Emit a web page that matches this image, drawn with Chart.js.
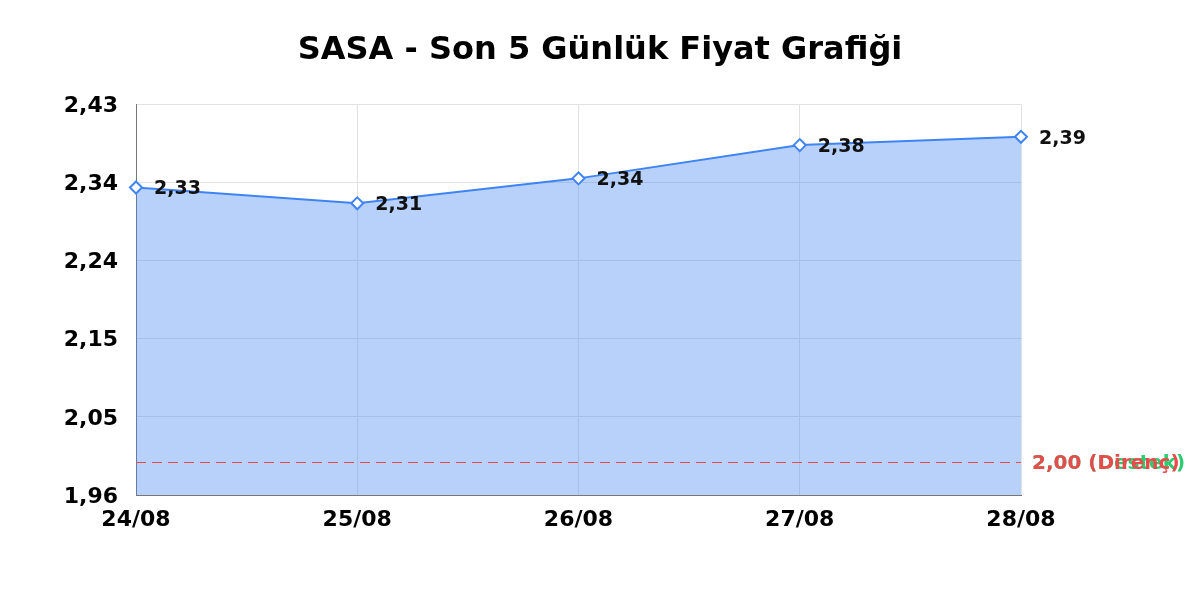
<!DOCTYPE html>
<html>
<head>
<meta charset="utf-8">
<script src="https://cdn.jsdelivr.net/npm/chart.js@4.4.0/dist/chart.umd.min.js"></script>
<style>
  body { margin: 0; background: #fff; }
  #wrap { width: 1200px; height: 600px; }
</style>
</head>
<body>
<div id="wrap"><canvas id="myChart"></canvas></div>
<script>
// data
const days = ["24/08", "25/08", "26/08", "27/08", "28/08"];
const closePrices = [2.33, 2.311, 2.341, 2.381, 2.391];
const yTicks = [1.96, 2.054, 2.148, 2.242, 2.336, 2.43];
const supportLevel = 2.00;
const resistanceLevel = 2.00;

const fmt = (v) => v.toFixed(2).replace(".", ",");
const FONT = "'DejaVu Sans', Verdana, sans-serif";

// draws the value next to each point + the support / resistance lines
const extrasPlugin = {
  id: "extras",
  afterDatasetsDraw(chart) {
    const ctx = chart.ctx;
    const area = chart.chartArea;
    const yScale = chart.scales.y;

    const levels = [
      { v: supportLevel, text: "(Destek)", color: "#2ecc71" },
      { v: resistanceLevel, text: "(Direnç)", color: "#e74c4c" },
    ];
    levels.forEach((lv) => {
      const y = Math.round(yScale.getPixelForValue(lv.v)) + 0.5;
      ctx.save();
      ctx.strokeStyle = lv.color;
      ctx.lineWidth = 1.2;
      ctx.setLineDash([10, 6]);
      ctx.beginPath();
      ctx.moveTo(area.left, y);
      ctx.lineTo(area.right, y);
      ctx.stroke();
      ctx.setLineDash([]);
      ctx.fillStyle = lv.color;
      ctx.font = "bold 20px " + FONT;
      ctx.textBaseline = "middle";
      ctx.textAlign = "left";
      ctx.fillText(fmt(lv.v) + " " + lv.text, area.right + 11, y + 1.5);
      ctx.restore();
    });

    const meta = chart.getDatasetMeta(0);
    ctx.save();
    ctx.fillStyle = "#111";
    ctx.font = "bold 19px " + FONT;
    ctx.textBaseline = "middle";
    ctx.textAlign = "left";
    meta.data.forEach((pt, i) => {
      ctx.fillText(fmt(closePrices[i]), pt.x + 18, pt.y + 2);
    });
    ctx.restore();
  },
};

const ctx = document.getElementById("myChart").getContext("2d");
const myChart = new Chart(ctx, {
  type: "line",
  data: {
    labels: days,
    datasets: [
      {
        label: "SASA",
        data: closePrices,
        borderColor: "#3f84f3",
        backgroundColor: "rgba(66, 133, 244, 0.38)",
        borderWidth: 2,
        fill: "start",
        tension: 0,
        pointStyle: "rectRot",
        pointRadius: 6,
        pointBackgroundColor: "#fff",
        pointBorderColor: "#3f84f3",
        pointBorderWidth: 2,
      },
    ],
  },
  options: {
    responsive: true,
    maintainAspectRatio: false,
    animation: false,
    layout: { padding: { left: 0, right: 0, top: 0, bottom: 60 } },
    plugins: {
      legend: { display: false },
      tooltip: { enabled: false },
      title: {
        display: true,
        text: "SASA - Son 5 Günlük Fiyat Grafiği",
        color: "#000",
        font: { family: FONT, size: 32, weight: "bold" },
        padding: { top: 31, bottom: 35 },
      },
    },
    scales: {
      x: {
        offset: false,
        afterFit: (scale) => { scale.height = 45; },
        grid: { color: "#e2e2e2", drawTicks: false },
        border: { color: "#777", width: 1 },
        ticks: {
          color: "#000",
          font: { family: FONT, size: 22, weight: "bold" },
          padding: 12,
          maxRotation: 0,
        },
      },
      y: {
        min: yTicks[0],
        max: yTicks[yTicks.length - 1],
        afterFit: (scale) => { scale.width = 136; },
        afterBuildTicks: (scale) => {
          scale.ticks = yTicks.map((v) => ({ value: v }));
        },
        grid: { color: "#e2e2e2", drawTicks: false },
        border: { color: "#777", width: 1 },
        ticks: {
          color: "#000",
          font: { family: FONT, size: 22, weight: "bold" },
          padding: 18,
          labelOffset: 2,
          callback: (v) => fmt(v),
        },
      },
      // empty axis on the right, only to keep room for the level labels
      yRight: {
        position: "right",
        display: true,
        afterFit: (scale) => { scale.width = 179; },
        grid: { display: false },
        border: { display: false },
        ticks: { display: false },
      },
    },
  },
  plugins: [extrasPlugin],
});
</script>
</body>
</html>
